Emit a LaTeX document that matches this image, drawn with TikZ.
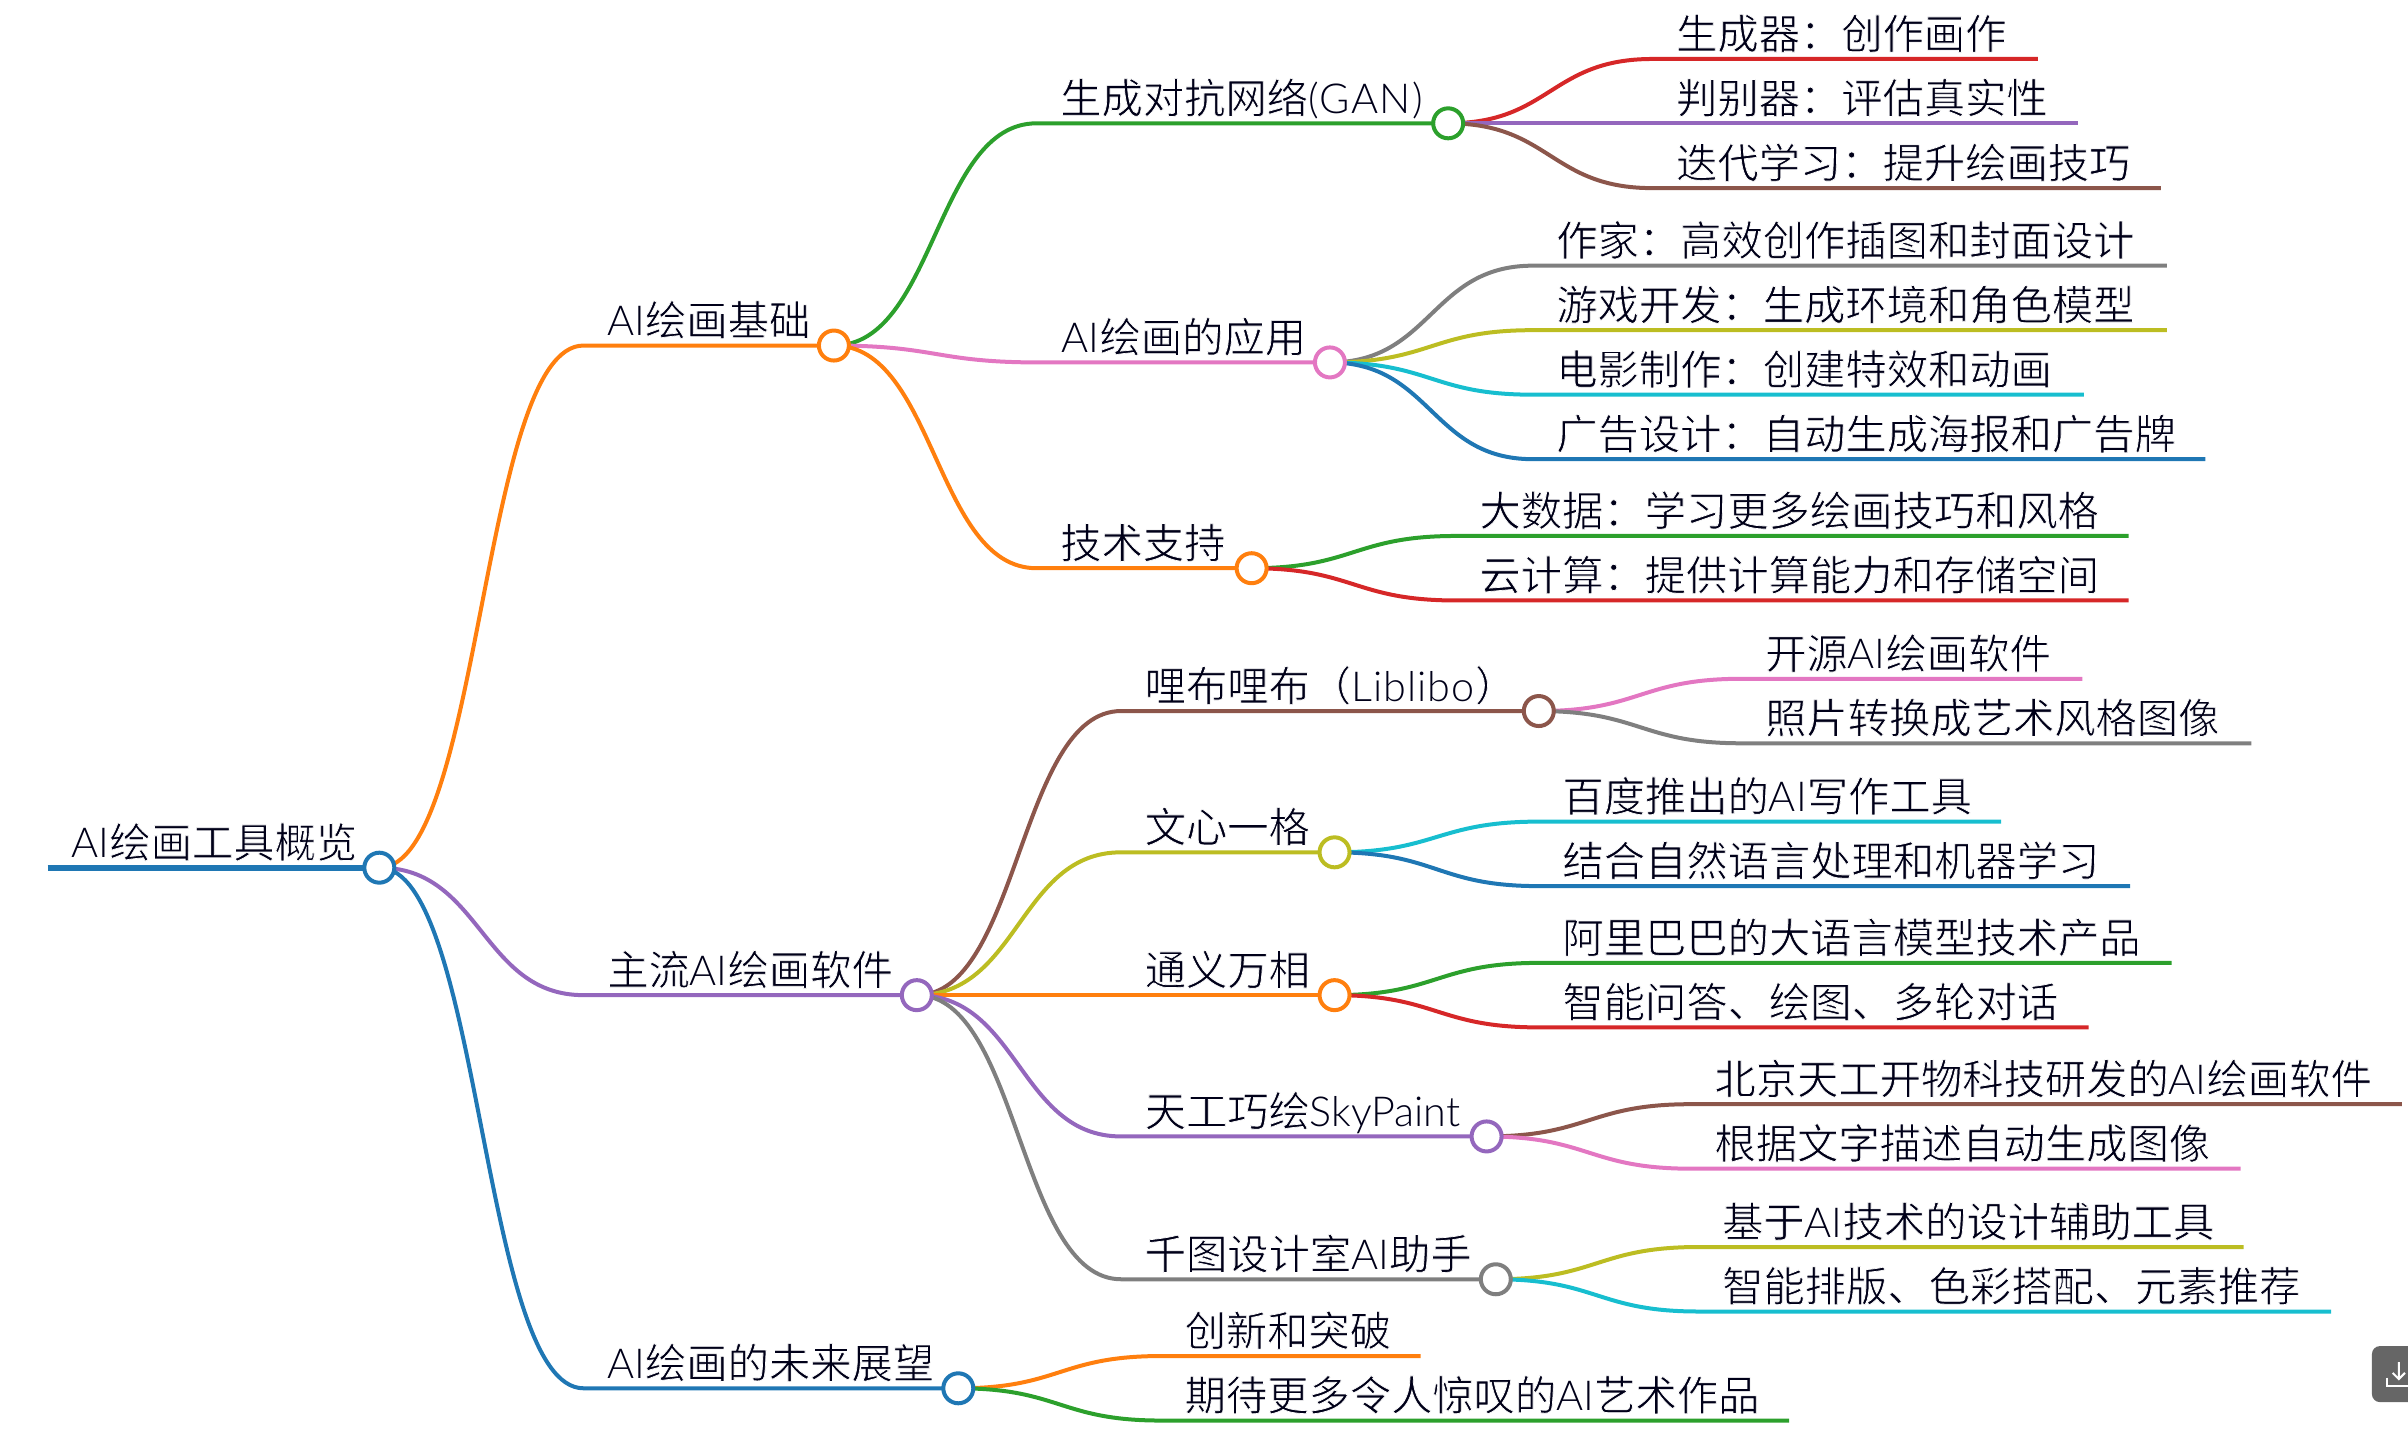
\documentclass[tikz,border=0pt]{standalone}
\usepackage{fontspec}
\setmainfont{Noto Sans CJK SC}
\IfFontExistsTF{Lato Light}{\newfontfamily\latfont{Lato Light}}{\newfontfamily\latfont{Lato}}
\newcommand{\ton}{\special{pdf:code 2 Tr 0.7 w 1 1 1 RG}}
\newcommand{\toff}{\special{pdf:code 0 Tr}}
\newcommand{\lat}[1]{{\toff\latfont #1\ton}}
\newcommand{\latw}[2]{{\toff\latfont\addfontfeature{LetterSpace=#1}#2\ton}}
\usetikzlibrary{calc}
\definecolor{cblue}{HTML}{1F77B4}
\definecolor{corange}{HTML}{FF7F0E}
\definecolor{cgreen}{HTML}{2CA02C}
\definecolor{cred}{HTML}{D62728}
\definecolor{cpurple}{HTML}{9467BD}
\definecolor{cbrown}{HTML}{8C564B}
\definecolor{cpink}{HTML}{E377C2}
\definecolor{cgray}{HTML}{7F7F7F}
\definecolor{colive}{HTML}{BCBD22}
\definecolor{ccyan}{HTML}{17BECF}
\pgfdeclarelayer{bg}
\pgfsetlayers{bg,main}
\tikzset{
  lbl/.style={anchor=base west,inner sep=0pt,outer sep=0pt,yshift=10pt,text=black!90!blue,font=\fontsize{41.3}{41.3}\selectfont},
  hubnode/.style={circle,fill=white,line width=4pt,minimum size=30pt,inner sep=0pt},
  link/.style={line width=4pt,line cap=butt}
}
\newcommand{\lnk}[4]{\begin{pgfonlayer}{bg}\draw[link,#1] let \p1=(#2.center),\p2=(#3) in (\p1) .. controls ({0.5*\x1+0.5*\x2},\y1) and ({0.5*\x1+0.5*\x2},\y2) .. (\p2) -- (#4);\end{pgfonlayer}}
\newcommand{\branch}[7]{%
  \coordinate (#1s) at (#4,#6);
  \node[hubnode,draw=#2] (#1) at (#5,#6) {};
  \node[lbl] (#1t) at (#4+15.4,#6) {\ton #7\toff};
  \lnk{#2}{#3}{#1s}{#1.center}}
\newcommand{\leaf}[7]{%
  \coordinate (#1s) at (#4,#6);
  \coordinate (#1e) at (#5,#6);
  \node[lbl] (#1t) at (#4+15.4,#6) {\ton #7\toff};
  \lnk{#2}{#3}{#1s}{#1e}}
\begin{document}
\begin{tikzpicture}[x=1.5357pt,y=-1.5357pt]
\useasboundingbox (0,0) rectangle (1568,935.74);
\coordinate (roots) at (31,565);
\node[hubnode,draw=cblue] (root) at (247,565) {};
\node[lbl] (roott) at (46.6,565) {\ton\lat{AI}绘画工具概览\toff};
\begin{pgfonlayer}{bg}\draw[link,line width=6pt,cblue] (roots) -- (root.center);\end{pgfonlayer}
\branch{a}{corange}{root}{380}{543}{225}{\lat{AI}绘画基础}
\branch{b}{cpurple}{root}{380}{597}{648}{主流\lat{AI}绘画软件}
\branch{c}{cblue}{root}{380}{624}{904}{\lat{AI}绘画的未来展望}
\branch{a1}{cgreen}{a}{675}{943}{80.3}{生成对抗网络\latw{3.6}{(GAN)}}
\branch{a2}{cpink}{a}{676}{866}{236}{\lat{AI}绘画的应用}
\branch{a3}{corange}{a}{675}{815}{370}{技术支持}
\leaf{a11}{cred}{a1}{1076}{1327}{38.4}{生成器：创作画作}
\leaf{a12}{cpurple}{a1}{1076}{1353}{80.3}{判别器：评估真实性}
\leaf{a13}{cbrown}{a1}{1076}{1407}{122.5}{迭代学习：提升绘画技巧}
\leaf{a21}{cgray}{a2}{998}{1411}{173}{作家：高效创作插图和封面设计}
\leaf{a22}{colive}{a2}{998}{1411}{215}{游戏开发：生成环境和角色模型}
\leaf{a23}{ccyan}{a2}{998}{1357}{257}{电影制作：创建特效和动画}
\leaf{a24}{cblue}{a2}{998}{1436}{299}{广告设计：自动生成海报和广告牌}
\leaf{a31}{cgreen}{a3}{948}{1386}{349}{大数据：学习更多绘画技巧和风格}
\leaf{a32}{cred}{a3}{948}{1386}{391}{云计算：提供计算能力和存储空间}
\branch{b1}{cbrown}{b}{730}{1002}{463}{哩布哩布（\latw{2.7}{Liblibo}）}
\branch{b2}{colive}{b}{730}{869}{555}{文心一格}
\branch{b3}{corange}{b}{730}{869}{648}{通义万相}
\branch{b4}{cpurple}{b}{730}{968}{740}{天工巧绘\lat{SkyPaint}}
\branch{b5}{cgray}{b}{730}{974}{833}{千图设计室\lat{AI}助手}
\leaf{b11}{cpink}{b1}{1134}{1356}{442}{开源\lat{AI}绘画软件}
\leaf{b12}{cgray}{b1}{1134}{1466}{484}{照片转换成艺术风格图像}
\leaf{b21}{ccyan}{b2}{1002}{1303}{535}{百度推出的\lat{AI}写作工具}
\leaf{b22}{cblue}{b2}{1002}{1387}{577}{结合自然语言处理和机器学习}
\leaf{b31}{cgreen}{b3}{1002}{1414}{627}{阿里巴巴的大语言模型技术产品}
\leaf{b32}{cred}{b3}{1002}{1360}{669}{智能问答、绘图、多轮对话}
\leaf{b41}{cbrown}{b4}{1101}{1564}{719}{北京天工开物科技研发的\lat{AI}绘画软件}
\leaf{b42}{cpink}{b4}{1101}{1459}{761}{根据文字描述自动生成图像}
\leaf{b51}{colive}{b5}{1106}{1461}{812}{基于\lat{AI}技术的设计辅助工具}
\leaf{b52}{ccyan}{b5}{1106}{1518}{854}{智能排版、色彩搭配、元素推荐}
\leaf{c1}{corange}{c}{756}{925}{883}{创新和突破}
\leaf{c2}{cgreen}{c}{756}{1165}{925}{期待更多令人惊叹的\lat{AI}艺术作品}
\begin{scope}
\clip (0,0) rectangle (1568,935.74);
\fill[rounded corners=8pt,fill=black!60] (1544.5,876.5) rectangle (1590,913);
\draw[white,line width=2pt] (1554.5,897) -- (1554.5,902.5) -- (1575,902.5);
\draw[white,line width=2pt] (1562,887) -- (1562,897.5) (1558,894) -- (1562,898) -- (1566,894);
\end{scope}
\end{tikzpicture}
\end{document}
